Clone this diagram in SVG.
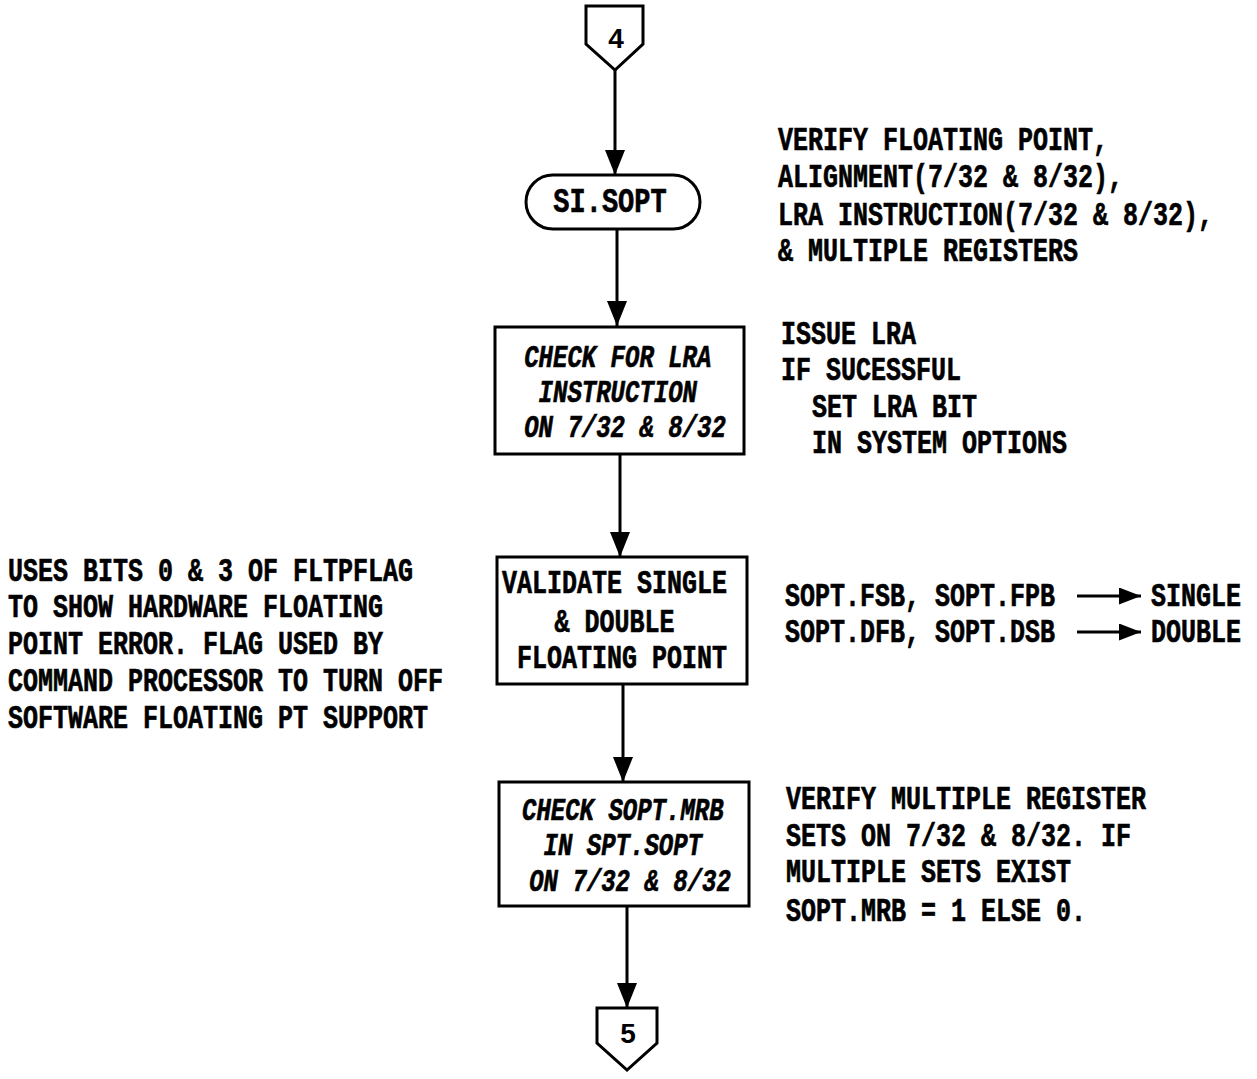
<svg xmlns="http://www.w3.org/2000/svg" width="1257" height="1079" viewBox="0 0 1257 1079">
  <style>
    .shape { fill: #fff; stroke: #000; stroke-width: 3; stroke-linejoin: miter; }
    .wire { fill: none; stroke: #000; stroke-width: 3; }
    .t { font-family: "Liberation Mono", "Courier New", monospace; font-weight: bold; font-size: 25px; fill: #000; stroke: #000; stroke-width: 0.5; }
    .it { font-style: italic; font-size: 24px; }
    .num { font-family: "Liberation Sans", Arial, sans-serif; font-weight: bold; font-size: 28px; fill: #000; }
  </style>
  <defs>
    <marker id="head" viewBox="0 0 25 20" refX="25" refY="10" markerWidth="25" markerHeight="20" markerUnits="userSpaceOnUse" orient="auto">
      <path d="M0,0 L25,10 L0,20 Z" fill="#000"/>
    </marker>
    <marker id="headSmall" viewBox="0 0 22 17" refX="22" refY="8.5" markerWidth="22" markerHeight="17" markerUnits="userSpaceOnUse" orient="auto">
      <path d="M0,0 L22,8.5 L0,17 Z" fill="#000"/>
    </marker>
  </defs>

  <rect width="1257" height="1079" fill="#fff"/>

  <!-- flow connectors -->
  <g id="connectors">
    <path class="wire" d="M615,70 V175" marker-end="url(#head)"/>
    <path class="wire" d="M617,229 V326" marker-end="url(#head)"/>
    <path class="wire" d="M620,454 V557" marker-end="url(#head)"/>
    <path class="wire" d="M623,684 V782" marker-end="url(#head)"/>
    <path class="wire" d="M627,906 V1008" marker-end="url(#head)"/>
    <path class="wire" d="M1077,596 H1141" marker-end="url(#headSmall)"/>
    <path class="wire" d="M1077,632 H1141" marker-end="url(#headSmall)"/>
  </g>

  <!-- off-page connector 4 -->
  <g id="conn4">
    <path class="shape" d="M586,6 H643 V44 L615,70 L586,44 Z"/>
    <text class="num" x="616" y="48" text-anchor="middle">4</text>
  </g>

  <!-- terminator -->
  <g id="si-sopt">
    <rect class="shape" x="526" y="175" width="174" height="54" rx="27" ry="27"/>
    <text class="t" x="610" y="0" text-anchor="middle" transform="translate(0,212) scale(1,1.3)" style="font-size:27px">SI.SOPT</text>
  </g>

  <!-- process boxes -->
  <g id="check-lra">
    <rect class="shape" x="495" y="327" width="249" height="127"/>
    <text class="t it" text-anchor="middle" transform="translate(625,367) scale(1,1.3)">
      <tspan x="0" y="0">CHECK FOR LRA</tspan>
      <tspan x="0" y="27">INSTRUCTION</tspan>
      <tspan x="0" y="54">ON 7/32 &amp; 8/32</tspan>
    </text>
  </g>

  <g id="validate-fp">
    <rect class="shape" x="497" y="557" width="250" height="127"/>
    <text class="t" text-anchor="middle" transform="translate(622,593) scale(1,1.3)">
      <tspan x="0" y="0">VALIDATE SINGLE</tspan>
      <tspan x="0" y="30">&amp; DOUBLE</tspan>
      <tspan x="0" y="57.5">FLOATING POINT</tspan>
    </text>
  </g>

  <g id="check-mrb">
    <rect class="shape" x="499" y="782" width="250" height="124"/>
    <text class="t it" text-anchor="middle" transform="translate(630,820) scale(1,1.3)">
      <tspan x="0" y="0">CHECK SOPT.MRB</tspan>
      <tspan x="0" y="27">IN SPT.SOPT</tspan>
      <tspan x="0" y="55">ON 7/32 &amp; 8/32</tspan>
    </text>
  </g>

  <!-- off-page connector 5 -->
  <g id="conn5">
    <path class="shape" d="M597,1008 H657 V1043 L627,1070 L597,1043 Z"/>
    <text class="num" x="628" y="1043" text-anchor="middle">5</text>
  </g>

  <!-- annotations -->
  <g id="note-verify">
    <text class="t" transform="translate(778,150) scale(1,1.3)">
      <tspan x="0" y="0">VERIFY FLOATING POINT,</tspan>
      <tspan x="0" y="28.5">ALIGNMENT(7/32 &amp; 8/32),</tspan>
      <tspan x="0" y="57.5">LRA INSTRUCTION(7/32 &amp; 8/32),</tspan>
      <tspan x="0" y="85.5">&amp; MULTIPLE REGISTERS</tspan>
    </text>
  </g>

  <g id="note-lra">
    <text class="t" transform="translate(781,344) scale(1,1.3)">
      <tspan x="0" y="0">ISSUE LRA</tspan>
      <tspan x="0" y="28">IF SUCESSFUL</tspan>
      <tspan x="31" y="56">SET LRA BIT</tspan>
      <tspan x="31" y="84">IN SYSTEM OPTIONS</tspan>
    </text>
  </g>

  <g id="note-fp">
    <text class="t" transform="translate(785,606) scale(1,1.3)">
      <tspan x="0" y="0">SOPT.FSB, SOPT.FPB</tspan>
      <tspan x="0" y="28">SOPT.DFB, SOPT.DSB</tspan>
    </text>
    <text class="t" transform="translate(1151,606) scale(1,1.3)">
      <tspan x="0" y="0">SINGLE</tspan>
      <tspan x="0" y="28">DOUBLE</tspan>
    </text>
  </g>

  <g id="note-fltpflag">
    <text class="t" transform="translate(8,581) scale(1,1.3)">
      <tspan x="0" y="0">USES BITS 0 &amp; 3 OF FLTPFLAG</tspan>
      <tspan x="0" y="28">TO SHOW HARDWARE FLOATING</tspan>
      <tspan x="0" y="56">POINT ERROR. FLAG USED BY</tspan>
      <tspan x="0" y="85">COMMAND PROCESSOR TO TURN OFF</tspan>
      <tspan x="0" y="113">SOFTWARE FLOATING PT SUPPORT</tspan>
    </text>
  </g>

  <g id="note-mrb">
    <text class="t" transform="translate(786,809) scale(1,1.3)">
      <tspan x="0" y="0">VERIFY MULTIPLE REGISTER</tspan>
      <tspan x="0" y="28.5">SETS ON 7/32 &amp; 8/32. IF</tspan>
      <tspan x="0" y="56">MULTIPLE SETS EXIST</tspan>
      <tspan x="0" y="86">SOPT.MRB = 1 ELSE 0.</tspan>
    </text>
  </g>
</svg>
